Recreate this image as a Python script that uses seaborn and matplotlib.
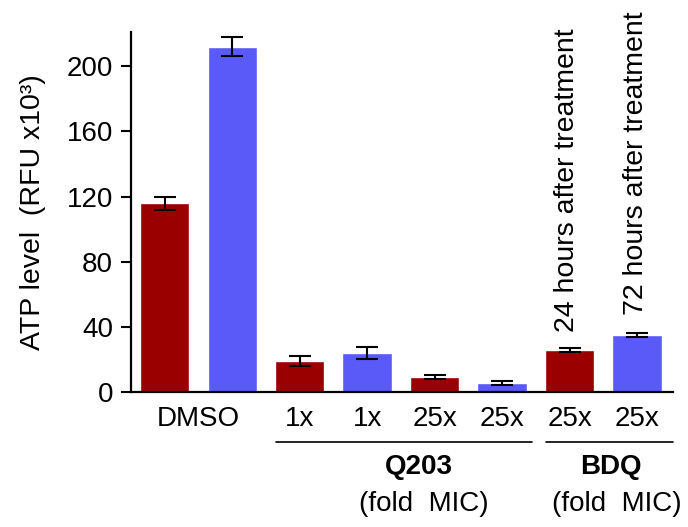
import matplotlib
matplotlib.use("Agg")
import matplotlib.pyplot as plt
import seaborn as sns
import pandas as pd
import matplotlib.transforms as mtransforms

categories = ['DMSO 24h', 'DMSO 72h', 'Q203 1x 24h', 'Q203 1x 72h',
              'Q203 25x 24h', 'Q203 25x 72h', 'BDQ 25x 24h', 'BDQ 25x 72h']
values = [116, 212, 19, 24, 9, 5.5, 25.5, 35]
errors = [4, 6, 3, 3.5, 1.2, 1.5, 1.2, 1.5]
times = ['24h', '72h', '24h', '72h', '24h', '72h', '24h', '72h']
tick_labels = ['', '', '1x', '1x', '25x', '25x', '25x', '25x']
yticks = [0, 40, 80, 120, 160, 200]
time_colors = {'24h': '#9B0000', '72h': '#5A5AF8'}

sns.set_style("white")
plt.rcParams['font.family'] = ['Liberation Sans', 'DejaVu Sans']
plt.rcParams['text.color'] = 'black'
plt.rcParams['axes.labelcolor'] = 'black'
plt.rcParams['xtick.color'] = 'black'
plt.rcParams['ytick.color'] = 'black'

df = pd.DataFrame({'cat': categories, 'val': values, 'err': errors, 'time': times})

fig = plt.figure(figsize=(6.88, 5.27), dpi=100)
ax = fig.add_axes([0.1904, 0.2562, 0.9778 - 0.1904, 0.9393 - 0.2562])

sns.barplot(data=df, x='cat', y='val', hue='time', palette=time_colors,
            dodge=False, width=0.73, saturation=1, legend=False, errorbar=None, ax=ax)
ax.errorbar(range(len(values)), df['val'], yerr=df['err'], fmt='none',
            ecolor='black', elinewidth=1.5, capsize=8, capthick=1.5, zorder=5)

FS = 20
ax.set_xlim(-0.5, 7.53)
ax.set_ylim(0, 221)
ax.set_yticks(yticks)
ax.set_xticks(range(len(categories)))
ax.set_xticklabels(tick_labels)
ax.tick_params(axis='y', direction='out', length=7, width=1.5, labelsize=FS, pad=6,
               left=True, color='black', labelcolor='black')
ax.tick_params(axis='x', length=0, labelsize=FS, pad=10, labelcolor='black')
ax.set_xlabel('')
ax.set_ylabel('ATP level  (RFU x10³)', fontsize=20.5, labelpad=15, color='black')

for s in ['top', 'right']:
    ax.spines[s].set_visible(False)
for s in ['left', 'bottom']:
    ax.spines[s].set_color('black')
    ax.spines[s].set_linewidth(1.6)

trans = mtransforms.blended_transform_factory(ax.transData, ax.transAxes)
ax.text(0.5, -0.074, 'DMSO', transform=trans, ha='center', va='center', fontsize=FS, color='black')

# group lines
ax.plot([1.65, 5.44], [-0.138, -0.138], color='black', lw=1.2, transform=trans, clip_on=False)
ax.plot([5.65, 7.53], [-0.138, -0.138], color='black', lw=1.2, transform=trans, clip_on=False)
ax.text(3.76, -0.208, 'Q203', transform=trans, ha='center', va='center', fontsize=FS,
        fontweight='bold', color='black')
ax.text(3.84, -0.312, '(fold  MIC)', transform=trans, ha='center', va='center', fontsize=FS, color='black')
ax.text(6.61, -0.208, 'BDQ', transform=trans, ha='center', va='center', fontsize=FS,
        fontweight='bold', color='black')
ax.text(6.70, -0.312, '(fold  MIC)', transform=trans, ha='center', va='center', fontsize=FS, color='black')

ax.text(5.97, 37, '24 hours after treatment', rotation=90, ha='center', va='bottom',
        fontsize=20.5, color='black')
ax.text(6.99, 47, '72 hours after treatment', rotation=90, ha='center', va='bottom',
        fontsize=20.5, color='black')

fig.savefig('out.png', dpi=100)
